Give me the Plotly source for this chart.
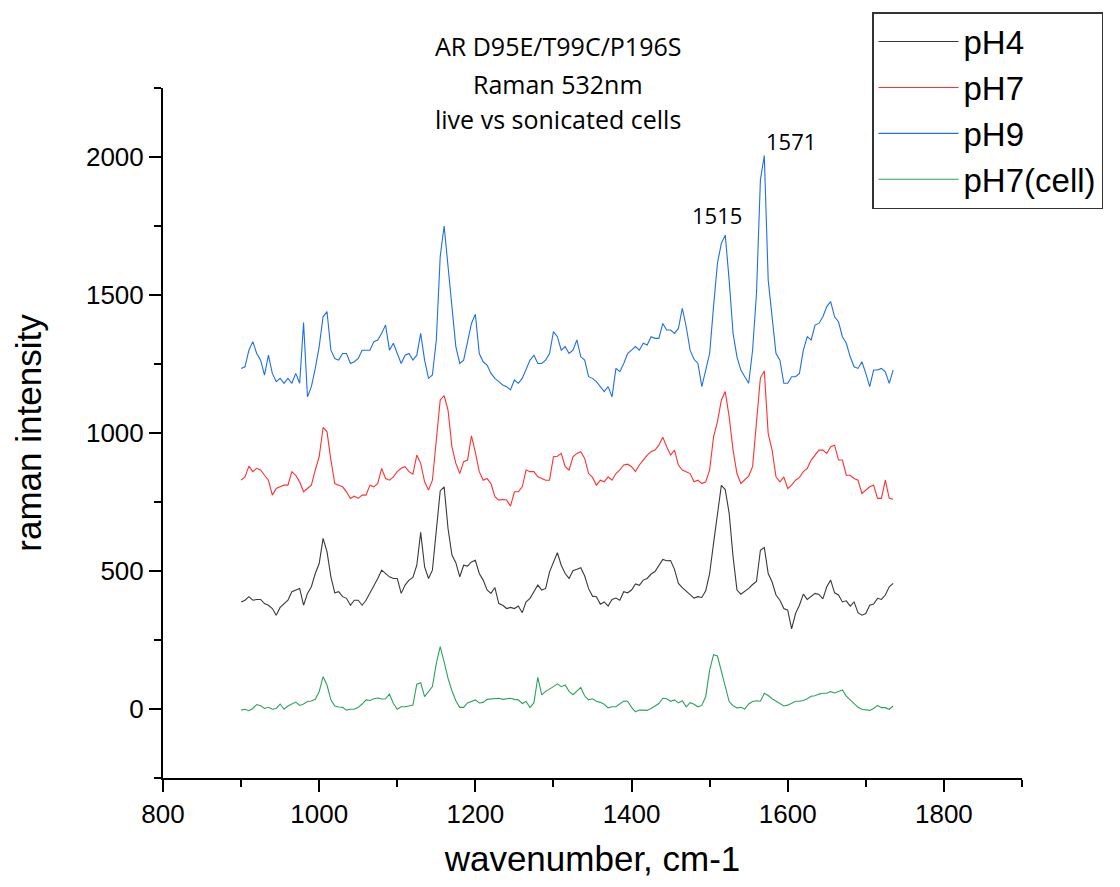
import plotly.graph_objects as go

# wavenumber grid (cm-1)
wavenumber = [
    900, 905, 910, 915, 920, 925, 930, 935, 940, 945,
    950, 955, 960, 965, 970, 975, 980, 985, 990, 995,
    1000, 1005, 1010, 1015, 1020, 1025, 1030, 1035, 1040, 1045,
    1050, 1055, 1060, 1065, 1070, 1075, 1080, 1085, 1090, 1095,
    1100, 1105, 1110, 1115, 1120, 1125, 1130, 1135, 1140, 1145,
    1150, 1155, 1160, 1165, 1170, 1175, 1180, 1185, 1190, 1195,
    1200, 1205, 1210, 1215, 1220, 1225, 1230, 1235, 1240, 1245,
    1250, 1255, 1260, 1265, 1270, 1275, 1280, 1285, 1290, 1295,
    1300, 1305, 1310, 1315, 1320, 1325, 1330, 1335, 1340, 1345,
    1350, 1355, 1360, 1365, 1370, 1375, 1380, 1385, 1390, 1395,
    1400, 1405, 1410, 1415, 1420, 1425, 1430, 1435, 1440, 1445,
    1450, 1455, 1460, 1465, 1470, 1475, 1480, 1485, 1490, 1495,
    1500, 1505, 1510, 1515, 1520, 1525, 1530, 1535, 1540, 1545,
    1550, 1555, 1560, 1565, 1570, 1575, 1580, 1585, 1590, 1595,
    1600, 1605, 1610, 1615, 1620, 1625, 1630, 1635, 1640, 1645,
    1650, 1655, 1660, 1665, 1670, 1675, 1680, 1685, 1690, 1695,
    1700, 1705, 1710, 1715, 1720, 1725, 1730, 1735,
]

ph4 = [
    388, 394, 407, 394, 397, 397, 382, 376, 364, 340,
    368, 380, 394, 425, 431, 437, 376, 419, 443, 491,
    527, 618, 570, 479, 421, 425, 407, 401, 376, 394,
    394, 376, 394, 419, 443, 473, 503, 491, 479, 473,
    473, 419, 449, 467, 477, 521, 640, 515, 473, 503,
    636, 790, 805, 654, 558, 530, 479, 521, 518, 533,
    539, 491, 467, 431, 419, 440, 382, 376, 364, 368,
    364, 373, 349, 388, 401, 425, 449, 431, 437, 497,
    533, 566, 521, 491, 473, 501, 506, 512, 482, 436,
    409, 407, 380, 388, 373, 397, 402, 394, 425, 421,
    431, 453, 448, 467, 473, 489, 498, 521, 542, 537,
    538, 506, 455, 440, 428, 413, 402, 407, 404, 428,
    491, 600, 709, 810, 795, 709, 552, 431, 416, 425,
    437, 451, 462, 575, 585, 491, 460, 413, 394, 364,
    358, 290, 346, 376, 416, 397, 407, 419, 415, 399,
    443, 467, 421, 413, 388, 392, 373, 388, 349, 340,
    346, 376, 380, 401, 397, 413, 443, 455,
]

ph7 = [
    829, 841, 880, 860, 872, 866, 847, 829, 775, 799,
    805, 811, 811, 860, 847, 823, 787, 799, 811, 866,
    914, 1020, 1005, 902, 817, 811, 805, 787, 763, 771,
    763, 775, 775, 811, 805, 817, 872, 835, 829, 841,
    860, 872, 878, 860, 851, 920, 890, 823, 793, 829,
    968, 1120, 1135, 1083, 950, 890, 853, 896, 902, 990,
    930, 860, 829, 835, 817, 769, 757, 759, 757, 735,
    787, 787, 805, 866, 860, 860, 841, 835, 829, 829,
    914, 916, 926, 878, 866, 914, 926, 932, 908, 853,
    839, 811, 829, 823, 841, 829, 853, 866, 884, 887,
    878, 860, 884, 902, 920, 932, 938, 956, 985, 950,
    920, 938, 884, 866, 860, 853, 823, 829, 817, 823,
    866, 986, 1041, 1119, 1150, 1059, 938, 853, 817, 829,
    844, 878, 1047, 1200, 1225, 998, 938, 841, 823, 841,
    799, 811, 829, 839, 860, 872, 902, 920, 938, 938,
    926, 950, 956, 902, 902, 847, 847, 835, 829, 781,
    793, 805, 811, 763, 763, 829, 763, 760,
]

ph9 = [
    1234, 1240, 1300, 1331, 1288, 1264, 1210, 1282, 1216, 1186,
    1198, 1180, 1198, 1180, 1216, 1180, 1400, 1131, 1168, 1234,
    1313, 1421, 1440, 1300, 1270, 1264, 1288, 1288, 1252, 1258,
    1270, 1300, 1300, 1300, 1331, 1337, 1361, 1391, 1300, 1325,
    1288, 1252, 1282, 1288, 1264, 1282, 1361, 1264, 1198, 1210,
    1337, 1640, 1750, 1590, 1458, 1313, 1252, 1264, 1337, 1397,
    1430, 1288, 1258, 1246, 1216, 1198, 1186, 1174, 1168, 1156,
    1192, 1180, 1198, 1234, 1264, 1282, 1252, 1252, 1264, 1288,
    1367, 1349, 1300, 1313, 1288, 1300, 1337, 1276, 1264, 1204,
    1198, 1186, 1168, 1150, 1168, 1131, 1234, 1222, 1252, 1288,
    1300, 1313, 1300, 1325, 1319, 1349, 1343, 1343, 1397, 1373,
    1373, 1361, 1379, 1452, 1385, 1300, 1267, 1252, 1168, 1228,
    1288, 1458, 1615, 1687, 1717, 1554, 1361, 1276, 1228, 1204,
    1180, 1300, 1506, 1917, 2005, 1554, 1421, 1288, 1264, 1180,
    1180, 1204, 1204, 1216, 1300, 1349, 1337, 1391, 1397, 1421,
    1458, 1476, 1421, 1403, 1349, 1325, 1276, 1240, 1234, 1258,
    1216, 1168, 1228, 1228, 1234, 1222, 1180, 1228,
]

ph7_cell = [
    -4, -1, -6, 2, 16, 12, 2, 6, -1, 2,
    18, -1, 11, 18, 25, 13, 18, 27, 29, 35,
    63, 117, 87, 33, 11, 7, 6, -4, -1, -1,
    6, 18, 33, 31, 37, 40, 36, 37, 54, 20,
    -1, 8, 8, 11, 14, 90, 95, 45, 63, 81,
    165, 226, 171, 111, 66, 30, 6, 6, 22, 29,
    33, 22, 24, 35, 36, 37, 39, 35, 37, 39,
    35, 33, 20, 27, 5, 23, 115, 51, 64, 71,
    81, 91, 81, 87, 64, 52, 65, 78, 47, 33,
    37, 28, 24, 17, 4, 8, 8, 18, 29, 28,
    6, -10, -4, -4, -5, 2, 10, 20, 39, 37,
    28, 33, 22, 30, 8, 23, 17, 8, 13, 45,
    141, 197, 192, 135, 76, 27, 12, 4, 6, 0,
    18, 27, 30, 28, 57, 49, 37, 29, 22, 11,
    14, 22, 28, 28, 31, 37, 46, 48, 54, 57,
    57, 63, 58, 63, 69, 47, 33, 20, 6, -1,
    -4, -5, 2, 13, 5, 5, -1, 11,
]

series_names = ["pH4", "pH7", "pH9", "pH7(cell)"]
series_values = [ph4, ph7, ph9, ph7_cell]
series_colors = ["#3a3a3a", "#ff3030", "#1f6fe6", "#2ca25f"]

title_lines = ["AR D95E/T99C/P196S", "Raman 532nm", "live vs sonicated cells"]
peak_labels = ["1515", "1571"]
peak_label_x = [1510, 1604]
peak_label_y = [1790, 2058]

AXIS_FONT = "Liberation Sans, Arial, sans-serif"
NOTE_FONT = "Open Sans, Noto Sans, sans-serif"

fig = go.Figure()
for name, ys, col in zip(series_names, series_values, series_colors):
    fig.add_trace(go.Scatter(
        x=wavenumber, y=ys, mode="lines", name=name,
        line=dict(color=col, width=1.1),
    ))

axis_common = dict(
    showline=True, linecolor="black", linewidth=2,
    ticks="outside", ticklen=12, tickwidth=2, tickcolor="black",
    showgrid=False, zeroline=False, mirror=False,
    tickfont=dict(family=AXIS_FONT, size=26, color="black"),
    automargin=False,
)

fig.update_layout(
    width=1120, height=887,
    margin=dict(l=163, r=98, t=88, b=109),
    paper_bgcolor="white", plot_bgcolor="white",
    showlegend=True,
    legend=dict(
        x=0.8254, y=1.110, xanchor="left", yanchor="top",
        bgcolor="white", bordercolor="#333333", borderwidth=1.5,
        font=dict(family=AXIS_FONT, size=33, color="black"),
        itemwidth=80, tracegroupgap=0,
    ),
    xaxis=dict(
        range=[800, 1900], tick0=800, dtick=200,
        minor=dict(ticks="outside", ticklen=7, tickwidth=2, tickcolor="black", dtick=100, showgrid=False),
        title=dict(text="wavenumber, cm-1", font=dict(family=AXIS_FONT, size=35, color="black"), standoff=18),
        **axis_common,
    ),
    yaxis=dict(
        range=[-250, 2250], tick0=0, dtick=500,
        minor=dict(ticks="outside", ticklen=7, tickwidth=2, tickcolor="black", dtick=250, showgrid=False),
        title=dict(text="raman intensity", font=dict(family=AXIS_FONT, size=35, color="black"), standoff=34),
        **axis_common,
    ),
)

title_y = [1.0609, 1.0058, 0.9551]
for txt, yy in zip(title_lines, title_y):
    fig.add_annotation(
        text=txt, xref="paper", yref="paper", x=0.46, y=yy,
        xanchor="center", yanchor="middle", showarrow=False,
        font=dict(family=NOTE_FONT, size=25, color="black"),
    )

for txt, xx, yy in zip(peak_labels, peak_label_x, peak_label_y):
    fig.add_annotation(
        text=txt, xref="x", yref="y", x=xx, y=yy,
        xanchor="center", yanchor="middle", showarrow=False,
        font=dict(family=NOTE_FONT, size=22, color="black"),
    )

fig.write_html("out.html")
